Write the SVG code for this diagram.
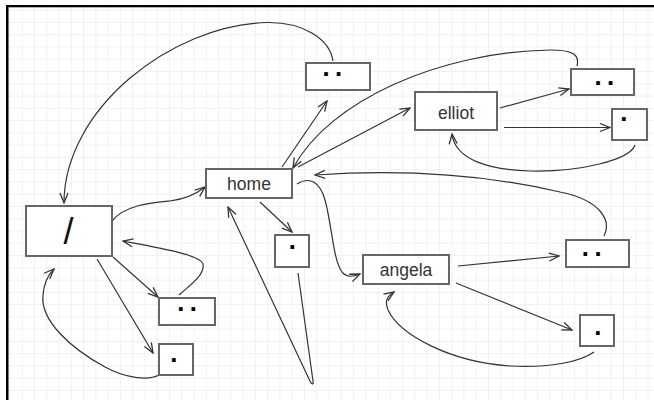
<svg xmlns="http://www.w3.org/2000/svg" width="654" height="400" viewBox="0 0 654 400">
<defs>
<pattern id="grid" x="9.5" y="9.7" width="12.27" height="12.27" patternUnits="userSpaceOnUse">
<path d="M0,0 H12.27 M0,0 V12.27" fill="none" stroke="#e3e3e3" stroke-width="1"/>
</pattern>
<marker id="arr" viewBox="0 0 12 10" refX="11" refY="5" markerWidth="12" markerHeight="10" markerUnits="userSpaceOnUse" orient="auto">
<path d="M1,1 L11,5 L1,9" fill="none" stroke="#333" stroke-width="1.3"/>
</marker>
</defs>
<style>
.box{fill:#fff;stroke:#666;stroke-width:2}
.lbl{font-family:"Liberation Sans",Arial,sans-serif;font-size:17.5px;fill:#333;text-anchor:middle}
.dot{font-family:"Liberation Mono","Courier New",monospace;font-weight:bold;font-size:26px;letter-spacing:-3px;fill:#000;text-anchor:middle}
.edge{fill:none;stroke:#333;stroke-width:1.2;marker-end:url(#arr)}
</style>
<rect x="0" y="0" width="654" height="400" fill="#fff"/>
<rect x="8" y="7" width="646" height="393" fill="url(#grid)"/>
<rect x="6" y="5" width="2.5" height="395" fill="#000"/>
<rect x="6" y="5" width="648" height="2.3" fill="#000"/>

<g id="connectors">
<path class="edge" d="M112,221 C125,205 150,203 170,201 C185,199 195,195 205,187"/>
<path class="edge" d="M333,61 C330,40 305,22 267,22.5 C170,25 64,110 64,203"/>
<path class="edge" d="M282,167 L327,101"/>
<path class="edge" d="M577,66 C580,54 572,50 550,50 C440,52 330,100 293,168"/>
<path class="edge" d="M298,167 L410,108"/>
<path class="edge" d="M500,108 L569,89"/>
<path class="edge" d="M504,127.5 L610,127.5"/>
<path class="edge" d="M635,145 C630,160 580,172 530,171 C490,170 455,160 452,134"/>
<path class="edge" d="M604,236 C612,220 600,200 560,192 C500,178 420,168 315,175"/>
<path class="edge" d="M297,184 C310,176 320,182 325,200 C332,225 333,260 342,272 C347,278 353,277 360,274"/>
<path class="edge" d="M260,202 L292,232"/>
<path class="edge" d="M298,273 L313,381 C314,386 311,384 309,379 L228,207"/>
<path class="edge" d="M113,257 L158,297"/>
<path class="edge" d="M179,295 C190,285 205,275 203,264 C201,255 160,248 123,241"/>
<path class="edge" d="M97,259 L153,353"/>
<path class="edge" d="M159,375 C148,381 125,378 105,367 C70,348 40,320 43,295 C44,282 48,275 54,269"/>
<path class="edge" d="M458,266 L559,256"/>
<path class="edge" d="M456,283 L572,330"/>
<path class="edge" d="M594,352 C580,362 550,368 510,366 C450,362 400,335 388,310 C384,300 388,296 394,292"/>
</g>

<g id="root">
<rect class="box" x="26" y="206" width="86" height="50"/>
<text x="68.5" y="243.5" style="font-family:'Liberation Sans',Arial,sans-serif;font-size:36px;fill:#111;text-anchor:middle">/</text>
</g>
<g id="root-dotdot">
<rect class="box" x="159" y="298" width="56" height="27"/>
<text class="dot" x="185.5" y="311">..</text>
</g>
<g id="root-dot">
<rect class="box" x="159" y="344" width="34" height="31"/>
<text class="dot" x="172.2" y="362">.</text>
</g>
<g id="home">
<rect class="box" x="206" y="169" width="86" height="29"/>
<text class="lbl" x="249" y="190">home</text>
</g>
<g id="home-dotdot">
<rect class="box" x="306" y="63" width="64" height="27"/>
<text class="dot" x="330.8" y="76">..</text>
</g>
<g id="home-dot">
<rect class="box" x="275" y="235" width="34" height="32"/>
<text class="dot" x="290.7" y="249">.</text>
</g>
<g id="elliot">
<rect class="box" x="415" y="92" width="82" height="38"/>
<text class="lbl" x="456" y="118.5">elliot</text>
</g>
<g id="elliot-dotdot">
<rect class="box" x="571" y="69" width="63" height="26"/>
<text class="dot" x="602.8" y="84.7">..</text>
</g>
<g id="elliot-dot">
<rect class="box" x="612" y="109" width="35" height="31"/>
<text class="dot" x="622.2" y="120.7">.</text>
</g>
<g id="angela">
<rect class="box" x="363" y="255" width="86" height="29"/>
<text class="lbl" x="406" y="276">angela</text>
</g>
<g id="angela-dotdot">
<rect class="box" x="566" y="240" width="63" height="27"/>
<text class="dot" x="590.2" y="256">..</text>
</g>
<g id="angela-dot">
<rect class="box" x="580" y="315" width="34" height="31"/>
<text class="dot" x="596.2" y="335">.</text>
</g>
</svg>
